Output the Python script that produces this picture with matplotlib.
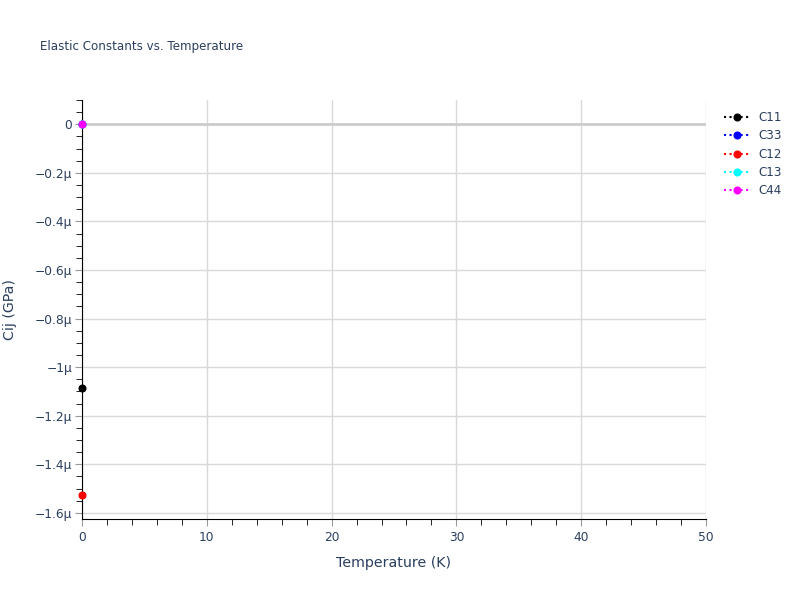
import matplotlib
matplotlib.use("Agg")
import matplotlib.pyplot as plt
from matplotlib.ticker import FuncFormatter, MultipleLocator
from matplotlib.lines import Line2D

# values (GPa), only T = 0 K present
temperature = [0]
c11 = [-1.086e-6]
c33 = [0.0]
c12 = [-1.527e-6]
c13 = [0.0]
c44 = [0.0]

names = ["C11", "C33", "C12", "C13", "C44"]
colors = ["black", "blue", "red", "cyan", "magenta"]
series = [c11, c33, c12, c13, c44]

font_col = "#2a3f5f"
plt.rcParams['font.family'] = ['DejaVu Sans']

fig = plt.figure(figsize=(8, 6), dpi=100)
ax = fig.add_axes([0.1025, 0.135, 0.78, 0.6983])

for vals, col in zip(series, colors):
    ax.plot(temperature, vals, linestyle=":", color=col, marker="o",
            markersize=4.8, linewidth=1.5, clip_on=False, zorder=3)

ax.set_xlim(0, 50)
ax.set_ylim(-1.625e-6, 0.1e-6)
ax.xaxis.set_major_locator(MultipleLocator(10))
ax.xaxis.set_minor_locator(MultipleLocator(2))
ax.yaxis.set_major_locator(MultipleLocator(0.2e-6))
ax.yaxis.set_minor_locator(MultipleLocator(0.05e-6))


def fmt_mu(v, pos):
    m = round(v * 1e6, 3)
    if abs(m) < 1e-9:
        return "0"
    s = ("%g" % abs(m)) + "μ"
    return ("\u2212" + s) if m < 0 else s


ax.yaxis.set_major_formatter(FuncFormatter(fmt_mu))

ax.grid(True, which="major", color="#d9d9d9", linewidth=1)
ax.axhline(0, color="#cccccc", linewidth=2, zorder=1)
ax.set_axisbelow(True)

for s in ["top", "right"]:
    ax.spines[s].set_visible(False)
ax.spines["left"].set_color("black")
ax.spines["bottom"].set_color("black")

ax.tick_params(axis="both", which="major", length=5, color="#999999",
               labelcolor=font_col, labelsize=8.8, direction="out")
ax.tick_params(axis="both", which="minor", length=4, color="black", direction="out")
ax.tick_params(axis="y", pad=2)

ax.set_xlabel("Temperature (K)", color=font_col, fontsize=10.2, labelpad=9)
ax.set_ylabel("Cij (GPa)", color=font_col, fontsize=10.2, labelpad=13)

fig.text(0.05, 0.923, "Elastic Constants vs. Temperature", color=font_col,
         fontsize=8.6, va="center", ha="left")

handles = [Line2D([0], [0], linestyle=":", color=c, marker="o", markersize=4.8,
                  linewidth=1.5) for c in colors]
leg = fig.legend(handles, names, loc="upper left", bbox_to_anchor=(0.8985, 0.823),
                 frameon=False, fontsize=8.6, handlelength=2.3, handletextpad=0.6,
                 labelspacing=0.45, borderaxespad=0)
for t in leg.get_texts():
    t.set_color(font_col)

fig.savefig("out.png", dpi=100)
